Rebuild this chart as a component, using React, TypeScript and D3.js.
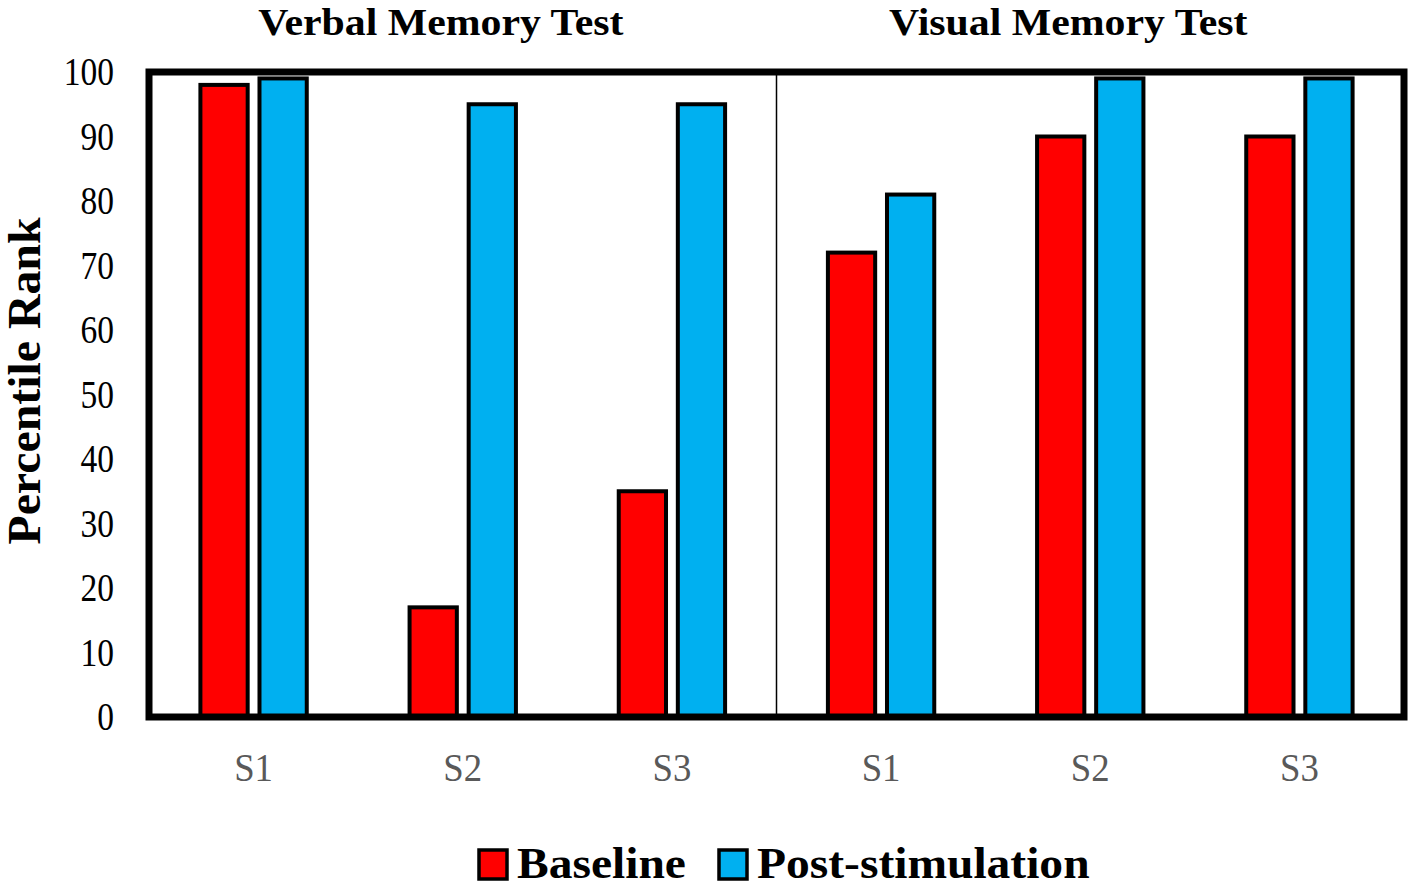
import React from 'react';
import * as d3 from 'd3';

// data
const tests = ['Verbal Memory Test', 'Visual Memory Test'];
const subjects = ['S1', 'S2', 'S3'];
const seriesNames = ['Baseline', 'Post-stimulation'];
const baseline = [98, 17, 35, 72, 90, 90];
const postStim = [99, 95, 95, 81, 99, 99];
const yTicks = [0, 10, 20, 30, 40, 50, 60, 70, 80, 90, 100];

const colors = ['#FF0000', '#00B0F0'];
const font = '"Liberation Serif", "Times New Roman", serif';

const width = 1417;
const height = 888;
const plot = { left: 149, right: 1404, top: 72, bottom: 717 };

// squished / stretched text like the original bitmap
const Txt = ({ x, y, sx = 1, rot = 0, children, ...rest }: any) => (
    <g transform={`translate(${x},${y}) rotate(${rot}) scale(${sx},1)`}>
        <text fontFamily={font} {...rest}>{children}</text>
    </g>
);

const App = () => {
    const cats = tests.flatMap((t, ti) => subjects.map(s => `${ti}-${s}`));

    const x0 = d3.scaleBand()
        .domain(cats)
        .range([plot.left, plot.right])
        .padding(0);

    const x1 = d3.scaleBand()
        .domain(seriesNames)
        .range([0, x0.bandwidth()])
        .paddingInner(0.2)
        .paddingOuter(0.87);

    const y = d3.scaleLinear()
        .domain([0, 100])
        .range([plot.bottom, plot.top]);

    const values = [baseline, postStim];
    const divider = x0(cats[3])!;

    return (
        <svg width={width} height={height} style={{ position: 'absolute', left: 0, top: 0, background: '#fff' }}>
            {/* titles */}
            {tests.map((t, ti) => {
                const a = x0(cats[ti * 3])!;
                const b = x0(cats[ti * 3 + 2])! + x0.bandwidth();
                return (
                    <Txt key={t} x={(a + b) / 2 - 22} y={35} sx={1.1} fontSize={38} fontWeight="bold" textAnchor="middle" fill="#000">
                        {t}
                    </Txt>
                );
            })}

            {/* bars */}
            {cats.map((c, i) => (
                <g key={c} transform={`translate(${x0(c)},0)`}>
                    {seriesNames.map((s, si) => (
                        <rect
                            key={s}
                            x={x1(s)}
                            y={y(values[si][i])}
                            width={x1.bandwidth()}
                            height={y(0) - y(values[si][i])}
                            fill={colors[si]}
                            stroke="#000"
                            strokeWidth={4}
                        />
                    ))}
                </g>
            ))}

            {/* divider between tests */}
            <line x1={divider} x2={divider} y1={plot.top} y2={plot.bottom} stroke="#000" strokeWidth={1.5} />

            {/* frame */}
            <rect
                x={plot.left}
                y={plot.top}
                width={plot.right - plot.left}
                height={plot.bottom - plot.top}
                fill="none"
                stroke="#000"
                strokeWidth={7}
            />

            {/* y ticks */}
            {yTicks.map(t => (
                <Txt key={t} x={114} y={y(t) + 13} sx={0.86} fontSize={39} textAnchor="end" fill="#000">
                    {t}
                </Txt>
            ))}

            {/* category labels */}
            {cats.map((c, i) => (
                <Txt key={c} x={x0(c)! + x0.bandwidth() / 2} y={781} sx={0.92} fontSize={40} textAnchor="middle" fill="#595959">
                    {subjects[i % 3]}
                </Txt>
            ))}

            {/* y label */}
            <Txt x={40} y={381} rot={-90} sx={1.04} fontSize={46} fontWeight="bold" textAnchor="middle" fill="#000">
                Percentile Rank
            </Txt>

            {/* legend */}
            {seriesNames.map((s, si) => {
                const lx = si === 0 ? 479 : 719;
                return (
                    <g key={s} transform={`translate(${lx},850)`}>
                        <rect x={0} y={0} width={28} height={29} fill={colors[si]} stroke="#000" strokeWidth={3.5} />
                        <Txt x={38} y={28} sx={1.08} fontSize={44} fontWeight="bold" fill="#000">{s}</Txt>
                    </g>
                );
            })}
        </svg>
    );
};

export default App;
